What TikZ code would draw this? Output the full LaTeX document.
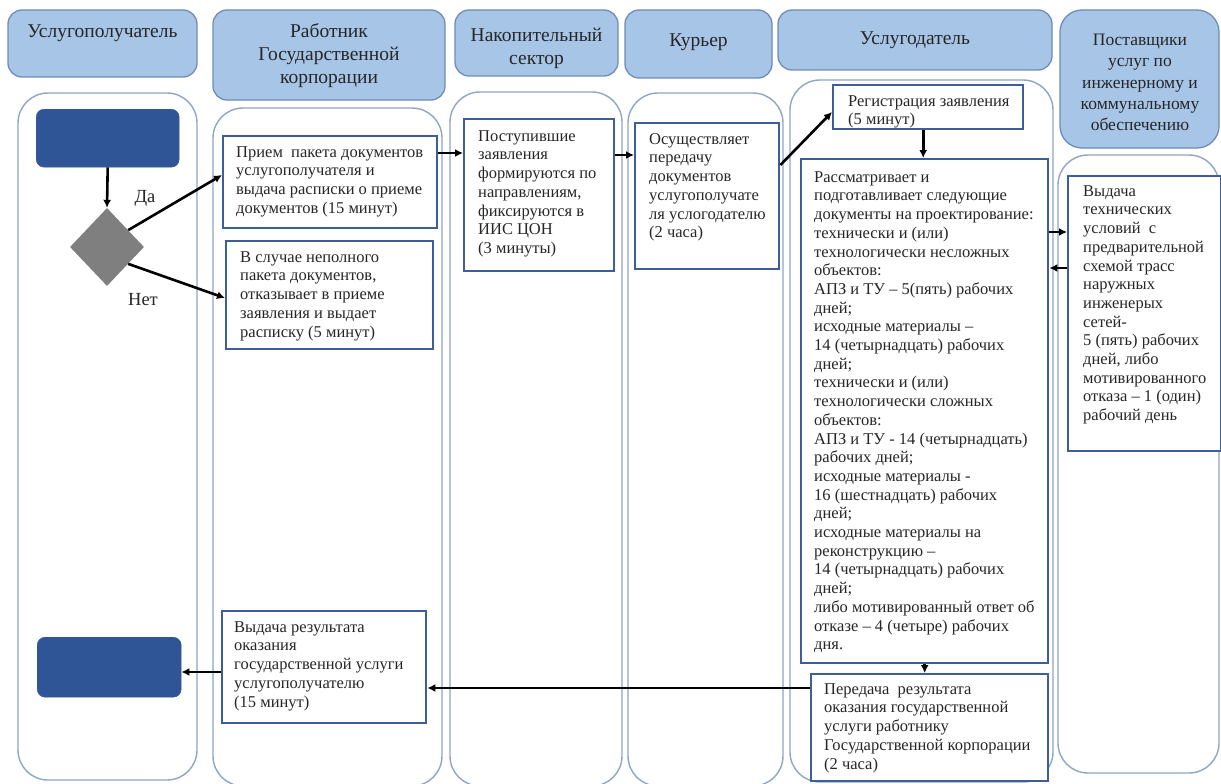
\documentclass[tikz,border=0pt]{standalone}
\usepackage{fontspec}
\setmainfont{Liberation Serif}
\usetikzlibrary{arrows.meta,shapes.geometric,calc}
\definecolor{hdrfill}{HTML}{A7C5E6}
\definecolor{hdrline}{HTML}{6F8DB6}
\definecolor{laneline}{HTML}{8FA5C6}
\definecolor{boxline}{HTML}{3E5E9A}
\definecolor{darkbox}{HTML}{2F5597}
\definecolor{diagray}{HTML}{7F7F7F}
\newcommand{\boxtxt}[4]{\parbox[t][#2][t]{#1}{\raggedright\leftskip=#3\relax\strut #4}}
\begin{document}
\begin{tikzpicture}[x=1pt,y=-1pt,
  hdr/.style={draw=hdrline, fill=hdrfill, line width=1.3pt, rounded corners=14pt},
  lane/.style={draw=laneline, line width=1.4pt, rounded corners=30pt},
  htxt/.style={font=\fontsize{19.5}{23}\selectfont, align=center, inner sep=0pt, text=black!85},
  stxt/.style={font=\fontsize{17.5}{21.25}\selectfont, align=center, inner sep=0pt, text=black!85},
  lbl/.style={font=\fontsize{18.5}{22}\selectfont, inner sep=0pt, text=black!85},
  boxst/.style={draw=boxline, line width=2.4pt, fill=white, inner xsep=0pt, inner ysep=8pt,
    anchor=north west, font=\fontsize{16.5}{18.7}\selectfont, text=black!85},
  darkst/.style={draw=darkbox, fill=darkbox, rounded corners=8pt, inner sep=0pt, anchor=north west},
  arr/.style={-{Latex[length=8pt,width=8pt]}, line width=2.6pt, black}]
\useasboundingbox (0,0) rectangle (1221,784);
\fill[white] (0,0) rectangle (1221,784);

% lanes
\draw[lane] (18,93) rectangle (197,780);
\draw[lane] (213,108) rectangle (442,786);
\draw[lane] (450,92) rectangle (622,786);
\draw[lane] (628,93) rectangle (783,786);
\draw[lane] (790,80) rectangle (1053,782);
\draw[lane] (1058,155) rectangle (1219,773);

% headers
\draw[hdr] (8,10) rectangle (197,77);
\draw[hdr] (213,10) rectangle (445,100);
\draw[hdr] (455,10) rectangle (618,76);
\draw[hdr] (625,10) rectangle (772,78);
\draw[hdr] (778,10) rectangle (1052,70);
\draw[hdr, rounded corners=22pt] (1060,10) rectangle (1219,148);

\node[htxt] (t1) at (102.5,33) {Услугополучатель};
\node[htxt] (t2) at (329,56) {Работник\\Государственной\\корпорации};
\node[htxt] (t3) at (536.5,48.5) {Накопительный\\сектор};
\node[htxt] (t4) at (698.5,42) {Курьер};
\node[htxt] (t5) at (915,40) {Услугодатель};
\node[stxt] (t6) at (1140,82.5) {Поставщики\\услуг по\\инженерному и\\коммунальному\\обеспечению};

% lane 1
\node[darkst, minimum width=143pt, minimum height=58pt] (d1) at (36,109) {};
\node[diamond, fill=diagray, minimum width=74pt, minimum height=78pt, inner sep=0pt] (dia) at (107,247) {};
\node[darkst, minimum width=144pt, minimum height=60pt] (d2) at (37,637) {};
\node[lbl] (da) at (145,198) {Да};
\node[lbl] (net) at (143,300) {Нет};

% boxes
\node[boxst] (b1) at (222,135) {\boxtxt{214pt}{76pt}{13pt}{Прием\ \ пакета документов\\услугополучателя и\\выдача расписки о приеме\\документов (15 минут)}};
\node[boxst] (b2) at (225,240) {\boxtxt{207pt}{92pt}{14pt}{В случае неполного\\пакета документов,\\отказывает в приеме\\заявления и выдает\\расписку (5 минут)}};
\node[boxst, inner ysep=9pt] (b3) at (463,118) {\boxtxt{150pt}{134pt}{14pt}{Поступившие\\заявления\\формируются по\\направлениям,\\фиксируются в\\ИИС ЦОН\\(3 минуты)}};
\node[boxst] (b4) at (634,122) {\boxtxt{144pt}{130pt}{14pt}{Осуществляет\\передачу\\документов\\услугополучате\\ля услогодателю\\(2 часа)}};
\node[boxst] (reg) at (832,84) {\boxtxt{190pt}{28pt}{15pt}{Регистрация заявления\\(5 минут)}};
\node[boxst, inner ysep=10pt] (big) at (800,158) {\boxtxt{247pt}{484pt}{13pt}{Рассматривает и\\подготавливает следующие\\документы на проектирование:\\технически и (или)\\технологически несложных\\объектов:\\АПЗ и ТУ – 5(пять) рабочих\\дней;\\исходные материалы –\\14 (четырнадцать) рабочих\\дней;\\технически и (или)\\технологически сложных\\объектов:\\АПЗ и ТУ - 14 (четырнадцать)\\рабочих дней;\\исходные материалы -\\16 (шестнадцать) рабочих\\дней;\\исходные материалы на\\реконструкцию –\\14 (четырнадцать) рабочих\\дней;\\либо мотивированный ответ об\\отказе – 4 (четыре) рабочих\\дня.}};
\node[boxst, inner ysep=7pt] (sup) at (1067,175) {\boxtxt{153pt}{261pt}{15pt}{Выдача\\технических\\условий\ \ с\\предварительной\\схемой трасс\\наружных\\инженерых\\сетей-\\5 (пять) рабочих\\дней, либо\\мотивированного\\отказа – 1 (один)\\рабочий день}};
\node[boxst, inner ysep=7pt] (per) at (810,673) {\boxtxt{237pt}{93pt}{13pt}{Передача\ \ результата\\оказания государственной\\услуги работнику\\Государственной корпорации\\(2 часа)}};
\node[boxst] (vyd) at (221,610) {\boxtxt{204pt}{96pt}{12pt}{Выдача результата\\оказания\\государственной услуги\\услугополучателю\\(15 минут)}};

% connector points
\coordinate (p1) at ([yshift=-40pt]b1.north west);
\coordinate (p2) at ([yshift=-58pt]b2.north west);
\coordinate (p3) at ([yshift=-18pt]b1.north east);
\coordinate (p4) at ([yshift=-37pt]b3.north east);
\coordinate (p5) at ([yshift=-43pt]b4.north east);
\coordinate (p6) at ([yshift=-28pt]reg.north west);
\coordinate (p7) at ([xshift=-5pt]reg.south);
\coordinate (p8) at ([yshift=-57pt]sup.north west);
\coordinate (p9) at ([yshift=-93pt]sup.north west);
\coordinate (p10) at ([yshift=-15pt]per.north west);
\coordinate (p11) at ([yshift=-62pt]vyd.north west);

% connectors
\draw[arr] (d1.south) -- (dia.north);
\draw[arr] ($(dia.north)!0.57!(dia.east)$) -- (p1);
\draw[arr] ($(dia.east)!0.43!(dia.south)$) -- (p2);
\draw[arr] (p3) -- (p3 -| b3.west);
\draw[arr] (p4) -- (p4 -| b4.west);
\draw[arr] (p5) -- (p6);
\draw[arr] (p7) -- (p7 |- big.north);
\draw[arr] (p8 -| big.east) -- (p8);
\draw[arr] (p9) -- (p9 -| big.east);
\draw[arr] (big.south) -- (big.south |- per.north);
\draw[arr] (p10) -- (p10 -| vyd.east);
\draw[arr] (p11) -- (p11 -| d2.east);
\end{tikzpicture}
\end{document}
